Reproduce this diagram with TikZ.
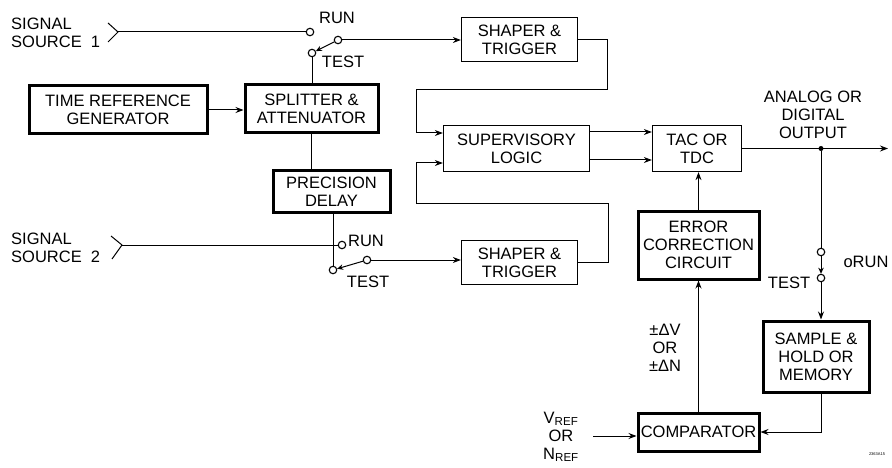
\documentclass[tikz,border=0pt]{standalone}
\usepackage{fontspec}
\setmainfont{Liberation Sans}
\usetikzlibrary{arrows.meta}
\begin{document}
\begin{tikzpicture}[x=1pt,y=-1pt,
  font=\fontsize{16.5}{18}\selectfont,
  thinbox/.style={draw, line width=1.3pt, align=center, inner sep=0pt},
  thickbox/.style={draw, line width=3pt, align=center, inner sep=0pt},
  wire/.style={line width=1pt},
  arr/.style={wire, -{Stealth[length=8pt,width=6pt]}},
  sarr/.style={wire, -{Stealth[length=6pt,width=5.5pt]}},
  term/.style={circle, draw, line width=1.1pt, fill=white, minimum size=7.5pt, inner sep=0pt},
  lbl/.style={align=center, inner sep=0pt},
]
\fill[white] (0,0) rectangle (892,468);
\useasboundingbox (0,0) rectangle (892,468);

% boxes
\node[thickbox, minimum width=178pt, minimum height=48pt] (trg) at (118,110) {TIME REFERENCE\\GENERATOR};
\node[thickbox, minimum width=133pt, minimum height=48pt] (spl) at (311.5,109) {SPLITTER \&\\ATTENUATOR};
\node[thickbox, minimum width=117pt, minimum height=41pt] (pd) at (331.5,191.5) {PRECISION\\DELAY};
\node[thinbox, minimum width=116pt, minimum height=44pt] (sh1) at (519.5,39.5) {SHAPER \&\\TRIGGER};
\node[thinbox, minimum width=116pt, minimum height=44pt] (sh2) at (519.5,262.5) {SHAPER \&\\TRIGGER};
\node[thinbox, minimum width=146pt, minimum height=46pt] (sl) at (516.5,148.5) {SUPERVISORY\\LOGIC};
\node[thinbox, minimum width=89pt, minimum height=46pt] (tac) at (697,148.5) {TAC OR\\TDC};
\node[thickbox, minimum width=121pt, minimum height=68pt] (ecc) at (698.5,245) {ERROR\\CORRECTION\\CIRCUIT};
\node[thickbox, minimum width=121pt, minimum height=38pt] (cmp) at (698.5,432) {COMPARATOR};
\node[thickbox, minimum width=106pt, minimum height=71pt] (shm) at (816,356.5) {SAMPLE \&\\HOLD OR\\MEMORY};

% signal source 1 and switch
\coordinate (in1) at (118,32);
\draw[wire] (108,23) -- (in1) -- (108,42);
\node[term] (r1) at (310,32) {};
\node[term] (p1) at (338,40) {};
\node[term] (t1) at (312,53) {};
\draw[wire] (in1) -- (r1);
\draw[arr] (p1) -- (sh1.west |- p1);
\draw[sarr] (p1) -- (t1);
\draw[wire] (t1) -- (t1 |- spl.north);
\draw[arr] (trg.east) -- (trg.east -| spl.west);
\draw[wire] (spl.south) -- (spl.south |- pd.north);

% signal source 2 and switch
\coordinate (in2) at (122,245);
\draw[wire] (111,236) -- (in2) -- (112,259);
\node[term] (r2) at (342,245) {};
\node[term] (t2) at (333,270) {};
\node[term] (p2) at (367,260) {};
\draw[wire] (in2) -- (r2);
\draw[wire] (pd.south -| t2) -- (t2);
\draw[sarr] (p2) -- (t2);
\draw[arr] (p2) -- (sh2.west |- p2);

% loops into supervisory logic
\draw[arr] (sh1.east) -- (607,39.5) -- (607,90) -- (416,90) -- (416,133) -- (sl.west |- 416,133);
\draw[arr] (sh2.east) -- (608,262.5) -- (608,203) -- (416,203) -- (416,163) -- (sl.west |- 416,163);

% supervisory logic to TAC
\draw[arr] ([yshift=16.5pt]sl.east) -- ([yshift=16.5pt]tac.west);
\draw[arr] ([yshift=-11.5pt]sl.east) -- ([yshift=-11.5pt]tac.west);

% output
\coordinate (out) at (888,148.5);
\draw[arr] (tac.east) -- (out);
\node[circle, fill, inner sep=0pt, minimum size=5pt] (dot) at (821,148.5) {};
\node[term] (r3) at (821,252) {};
\node[term] (t3) at (821,278) {};
\draw[wire] (dot) -- (r3);
\draw[sarr] (r3) -- (t3);
\draw[arr] (t3) -- (t3 |- shm.north);
\draw[arr] (shm.south -| t3) |- (cmp.east);
\draw[arr] (cmp.north) -- (ecc.south);
\draw[arr] (ecc.north) -- (ecc.north |- tac.south);
\coordinate (vref) at (593,436);
\draw[arr] (vref) -- (vref -| cmp.west);

% labels
\node[lbl, align=left, anchor=west] (s1) at (11,33) {SIGNAL\\SOURCE\ \ 1};
\node[lbl] (run1) at (337,18) {RUN};
\node[lbl] (test1) at (343,62) {TEST};
\node[lbl, align=left, anchor=west] (s2) at (11,248) {SIGNAL\\SOURCE\ \ 2};
\node[lbl] (run2) at (366,241) {RUN};
\node[lbl] (test2) at (368,282) {TEST};
\node[lbl] (outl) at (813,115) {ANALOG OR\\DIGITAL\\OUTPUT};
\node[lbl] (test3) at (789,283) {TEST};
\node[lbl] (run3) at (866,262) {oRUN};
\node[lbl] (dv) at (665,348) {±ΔV\\OR\\±ΔN};
\node[lbl] (ref) at (561,437) {V\textsubscript{REF}\\OR\\N\textsubscript{REF}};
\node[lbl, font=\fontsize{4}{4}\selectfont] (id) at (877,454) {2363A15};
\end{tikzpicture}
\end{document}
